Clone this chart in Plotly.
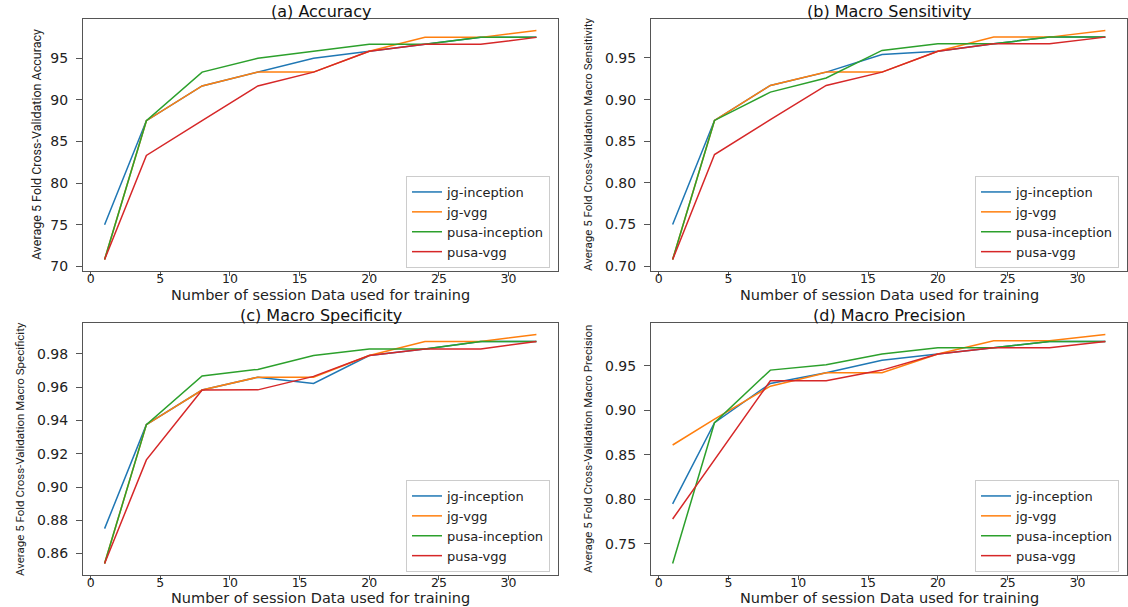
import plotly.graph_objects as go

sessions = [1, 4, 8, 12, 16, 20, 24, 28, 32]
series_names = ["jg-inception", "jg-vgg", "pusa-inception", "pusa-vgg"]
colors = ["#1f77b4", "#ff7f0e", "#2ca02c", "#d62728"]

accuracy_jg_inception = [75.0, 87.5, 91.67, 93.33, 95.0, 95.83, 96.67, 97.5, 97.5]
accuracy_jg_vgg = [70.83, 87.5, 91.67, 93.33, 93.33, 95.83, 97.5, 97.5, 98.33]
accuracy_pusa_inception = [70.83, 87.5, 93.33, 95.0, 95.83, 96.67, 96.67, 97.5, 97.5]
accuracy_pusa_vgg = [70.83, 83.33, 87.5, 91.67, 93.33, 95.83, 96.67, 96.67, 97.5]

sens_jg_inception = [0.75, 0.875, 0.917, 0.933, 0.954, 0.958, 0.967, 0.975, 0.975]
sens_jg_vgg = [0.708, 0.875, 0.917, 0.933, 0.933, 0.958, 0.975, 0.975, 0.983]
sens_pusa_inception = [0.708, 0.875, 0.909, 0.926, 0.959, 0.967, 0.967, 0.975, 0.975]
sens_pusa_vgg = [0.708, 0.834, 0.876, 0.917, 0.933, 0.958, 0.967, 0.967, 0.975]

spec_jg_inception = [0.875, 0.9375, 0.9583, 0.966, 0.9622, 0.979, 0.983, 0.9875, 0.9875]
spec_jg_vgg = [0.854, 0.9375, 0.9583, 0.966, 0.966, 0.979, 0.9875, 0.9875, 0.9917]
spec_pusa_inception = [0.854, 0.9375, 0.9667, 0.9707, 0.979, 0.983, 0.983, 0.9875, 0.9875]
spec_pusa_vgg = [0.854, 0.9163, 0.9583, 0.9584, 0.9665, 0.979, 0.983, 0.983, 0.9875]

prec_jg_inception = [0.795, 0.886, 0.930, 0.942, 0.956, 0.963, 0.970, 0.977, 0.977]
prec_jg_vgg = [0.861, 0.890, 0.927, 0.942, 0.942, 0.963, 0.978, 0.978, 0.985]
prec_pusa_inception = [0.728, 0.886, 0.945, 0.951, 0.963, 0.970, 0.970, 0.977, 0.977]
prec_pusa_vgg = [0.778, 0.844, 0.933, 0.933, 0.945, 0.963, 0.970, 0.970, 0.977]

panel_titles = ["(a) Accuracy", "(b) Macro Sensitivity", "(c) Macro Specificity", "(d) Macro Precision"]
y_titles = [
    "Average 5 Fold Cross-Validation Accuracy",
    "Average 5 Fold Cross-Validation Macro Sensitivity",
    "Average 5 Fold Cross-Validation Macro Specificity",
    "Average 5 Fold Cross-Validation Macro Precision",
]
x_title = "Number of session Data used for training"
x_ticks = [0, 5, 10, 15, 20, 25, 30]
y_ticks = [
    [70, 75, 80, 85, 90, 95],
    [0.70, 0.75, 0.80, 0.85, 0.90, 0.95],
    [0.86, 0.88, 0.90, 0.92, 0.94, 0.96, 0.98],
    [0.75, 0.80, 0.85, 0.90, 0.95],
]
y_tickformats = ["d", ".2f", ".2f", ".2f"]

panels = [
    [accuracy_jg_inception, accuracy_jg_vgg, accuracy_pusa_inception, accuracy_pusa_vgg],
    [sens_jg_inception, sens_jg_vgg, sens_pusa_inception, sens_pusa_vgg],
    [spec_jg_inception, spec_jg_vgg, spec_pusa_inception, spec_pusa_vgg],
    [prec_jg_inception, prec_jg_vgg, prec_pusa_inception, prec_pusa_vgg],
]

W, H = 1128, 607
# pixel boxes (left, right, top, bottom)
boxes = [(83, 558, 19, 271), (651, 1127, 19, 271), (83, 558, 323, 575), (651, 1127, 323, 575)]
ytitle_x = [36, 588, 20, 588]
ytitle_size = [12.5, 11.5, 11.5, 11.5]
xtitle_offset = [24, 24, 23, 23]

fig = go.Figure()
FONT = "DejaVu Sans"
NARROW = "Liberation Sans Narrow, Roboto, sans-serif"
axis_color = "#555555"
text_color = "#222222"

for p in range(4):
    ax_suffix = "" if p == 0 else str(p + 1)
    legend_name = "legend" if p == 0 else f"legend{p + 1}"
    for s in range(4):
        fig.add_trace(go.Scatter(
            x=sessions, y=panels[p][s], mode="lines", name=series_names[s],
            line=dict(color=colors[s], width=1.5),
            xaxis="x" + ax_suffix, yaxis="y" + ax_suffix,
            legend=legend_name, showlegend=True,
        ))

    l, r, t, b = boxes[p]
    vals = [v for ser in panels[p] for v in ser]
    lo, hi = min(vals), max(vals)
    pad = (hi - lo) * 0.05
    xaxis = dict(
        domain=[l / W, r / W], anchor="y" + ax_suffix, range=[-0.55, 33.55],
        tickvals=x_ticks, ticks="outside", ticklen=4, tickcolor=axis_color,
        ticklabelstandoff=-8,
        showline=True, linecolor=axis_color, linewidth=1, mirror=True,
        showgrid=False, zeroline=False, automargin=False,
        tickfont=dict(family=FONT, size=12.5, color=text_color),
    )
    yaxis = dict(
        domain=[1 - b / H, 1 - t / H], anchor="x" + ax_suffix, range=[lo - pad, hi + pad],
        tickvals=y_ticks[p], tickformat=y_tickformats[p], ticks="outside", ticklen=6,
        tickcolor=axis_color, ticklabelstandoff=5,
        showline=True, linecolor=axis_color, linewidth=1, mirror=True,
        showgrid=False, zeroline=False, automargin=False,
        tickfont=dict(family=FONT, size=14, color=text_color),
    )
    fig.layout["xaxis" + ax_suffix] = xaxis
    fig.layout["yaxis" + ax_suffix] = yaxis

    fig.layout[legend_name] = dict(
        x=(r - 8) / W, y=1 - (b - 3) / H, xanchor="right", yanchor="bottom",
        bgcolor="rgba(255,255,255,0.8)", bordercolor="#cccccc", borderwidth=1,
        font=dict(family=FONT, size=13, color=text_color),
        tracegroupgap=0,
    )

    # panel title
    fig.add_annotation(
        text=panel_titles[p], xref="paper", yref="paper",
        x=(l + r) / 2 / W, y=1 - (t - 8) / H, xanchor="center", yanchor="middle",
        showarrow=False, borderpad=0,
        font=dict(family=FONT, size=16, color="#111111"),
    )
    # x-axis title
    fig.add_annotation(
        text=x_title, xref="paper", yref="paper",
        x=(l + r) / 2 / W, y=1 - (b + xtitle_offset[p]) / H, xanchor="center", yanchor="middle",
        showarrow=False, borderpad=0,
        font=dict(family=FONT, size=14.5, color=text_color),
    )
    # y-axis title
    fig.add_annotation(
        text=y_titles[p], xref="paper", yref="paper",
        x=ytitle_x[p] / W, y=1 - (t + b) / 2 / H, xanchor="center", yanchor="middle",
        textangle=-90, showarrow=False, borderpad=0,
        font=dict(family=NARROW, size=ytitle_size[p], color=text_color),
    )

fig.update_layout(
    width=W, height=H,
    margin=dict(l=0, r=0, t=0, b=0),
    paper_bgcolor="white", plot_bgcolor="white",
)

fig.write_html(
    "out.html",
    config={"displayModeBar": False},
    post_script="document.body.style.margin='0';document.body.style.overflow='hidden';",
)
